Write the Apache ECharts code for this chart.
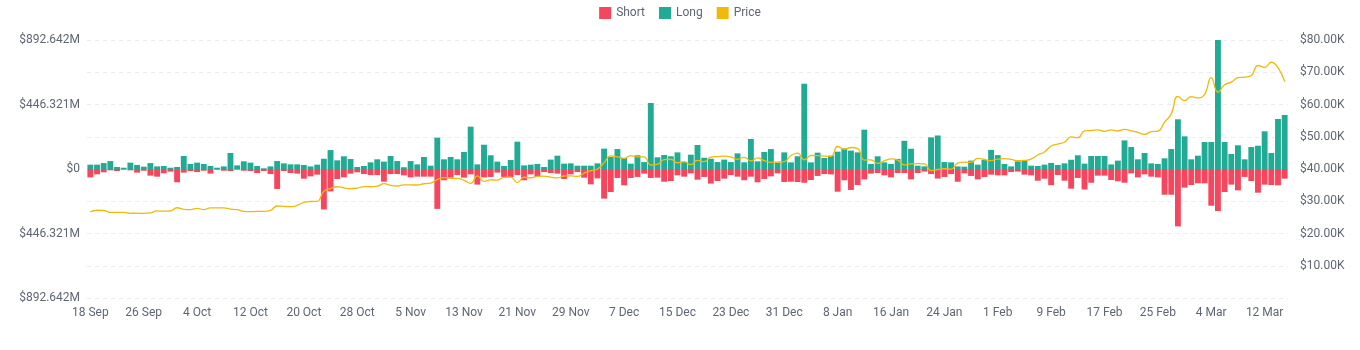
<!DOCTYPE html>
<html><head><meta charset="utf-8">
<script src="https://cdn.jsdelivr.net/npm/echarts@6/dist/echarts.min.js"></script>
<style>html,body{margin:0;padding:0;background:#fff}#c{width:1360px;height:350px}</style>
</head><body><div id="c"></div>
<script>
// Categories: daily from 18 Sep 2023 to 15 Mar 2024
var startDate = Date.UTC(2023, 8, 18);
var dayCount = 180;
var monthNames = ['Jan','Feb','Mar','Apr','May','Jun','Jul','Aug','Sep','Oct','Nov','Dec'];
var categories = [];
for (var i = 0; i < dayCount; i++) {
  var d = new Date(startDate + i * 86400000);
  categories.push(d.getUTCDate() + ' ' + monthNames[d.getUTCMonth()]);
}

// Long values (millions USD)
var longValues = [30,30,41,55,14,9,44,28,16,41,18,21,9,14,90,35,44,35,21,9,
18,111,25,53,44,21,5,18,55,39,32,32,28,18,30,71,131,60,88,69,
14,21,46,67,51,90,55,12,55,32,83,23,217,67,83,67,118,293,32,168,
95,51,21,62,189,25,30,35,14,65,92,37,39,23,23,23,39,141,83,138,
76,37,95,48,457,81,97,88,115,48,99,166,78,71,48,65,48,108,46,208,
53,118,138,44,115,46,88,590,46,113,76,92,120,143,127,115,272,35,88,46,
35,70,195,140,23,18,219,232,48,46,18,16,58,30,62,132,96,35,18,53,
58,23,21,30,42,28,39,64,95,37,90,90,90,32,58,198,152,67,111,39,
35,74,138,344,226,67,92,187,187,895,187,104,164,67,152,161,261,111,346,374];

// Short values (millions USD, drawn below zero)
var shortValues = [58,37,23,9,14,5,9,25,12,46,53,30,18,92,25,14,21,12,32,5,
12,14,5,12,14,28,14,35,138,14,28,32,67,51,39,280,155,69,58,32,
23,35,42,42,88,35,35,44,58,53,53,53,276,78,60,42,60,37,108,58,
55,25,55,55,42,78,37,55,21,28,32,69,37,21,60,106,65,205,159,62,
113,62,55,32,62,60,88,83,44,53,30,74,55,101,83,67,42,53,78,53,
92,69,51,30,90,88,90,95,76,48,35,37,157,78,145,111,72,32,28,44,
58,28,28,72,28,18,35,66,55,35,88,30,48,72,55,39,44,44,21,18,
39,44,81,67,112,42,81,136,62,142,95,46,46,76,85,95,30,58,37,53,
58,178,178,397,129,111,99,99,254,291,159,108,148,55,83,164,108,111,113,67];

// Price (USD)
var priceValues = [26700,27210,27130,26570,26580,26580,26260,26300,26220,26370,27020,26910,26970,27990,27500,27430,27790,27410,27930,27960,
27940,27590,27390,26870,26760,26860,26860,27160,28520,28420,28330,28720,29680,29920,29990,33090,33900,34500,34150,33900,
34090,34540,34500,34670,35440,34940,34730,35080,35050,35040,35430,35650,36700,37320,37130,37070,36490,35550,37880,36160,
36600,36580,37390,37480,35800,37440,37290,37720,37800,37480,37250,37830,37860,37710,38690,39470,39980,41980,44080,43770,
43290,44170,43730,43790,41240,41450,42890,43020,41940,42280,41370,42660,42270,43660,43860,43990,43740,43020,43610,42520,
43440,42580,42070,42140,42280,44180,44940,42850,44180,44160,43970,43930,46970,46120,46660,46340,42780,42840,41730,42510,
43150,42740,41260,41620,41660,41580,39510,39840,40080,39940,41820,42120,42030,43300,42950,42580,43080,43190,43000,42580,
42660,43090,44340,45290,47130,47750,48290,49960,49700,51810,51940,52160,51660,52120,51780,52280,51850,51320,50740,51570,
51730,54520,57080,62500,61200,62440,62030,63170,68330,63800,66110,66930,68300,68500,69000,72100,71480,73100,71400,67100];

var leftMax = 892.642, leftStep = 446.321;
var rightMax = 80000, rightStep = 10000;

var shortNeg = shortValues.map(function (v) { return -v; });
var textColor = '#5e6673';
var fontFam = 'Roboto, "Noto Sans", sans-serif';

var chart = echarts.init(document.getElementById('c'), null, {renderer: 'canvas'});
chart.setOption({
  animation: false,
  backgroundColor: '#fff',
  textStyle: {fontFamily: fontFam},
  legend: {
    top: 2, left: 'center', icon: 'rect', itemWidth: 12, itemHeight: 12, itemGap: 14,
    textStyle: {color: textColor, fontSize: 12, fontFamily: fontFam},
    data: ['Short', 'Long', 'Price']
  },
  grid: {left: 87, right: 72, top: 40, bottom: 52, containLabel: false},
  xAxis: {
    type: 'category', data: categories, boundaryGap: true,
    axisLine: {show: false}, axisTick: {show: false},
    axisLabel: {interval: 7, color: textColor, fontSize: 12, margin: 9, fontFamily: fontFam},
    splitLine: {show: false}
  },
  yAxis: [{
    type: 'value', min: -leftMax, max: leftMax, interval: leftStep,
    axisLine: {show: false}, axisTick: {show: false}, splitLine: {show: false},
    axisLabel: {color: textColor, fontSize: 12, margin: 7, fontFamily: fontFam,
      formatter: function (v) { return Math.abs(v) < 1e-6 ? '$0' : '$' + Math.abs(v).toFixed(3) + 'M'; }}
  }, {
    type: 'value', min: 0, max: rightMax, interval: rightStep, position: 'right',
    axisLine: {show: false}, axisTick: {show: false},
    splitLine: {show: true, lineStyle: {color: '#eaecef', type: [4, 4], width: 1}},
    axisLabel: {color: textColor, fontSize: 12, margin: 12, fontFamily: fontFam,
      formatter: function (v) { return v === 0 ? '' : '$' + (v / 1000).toFixed(2) + 'K'; }}
  }],
  series: [{
    name: 'Short', type: 'bar', yAxisIndex: 0, data: shortNeg,
    barCategoryGap: '12%', barGap: '-100%',
    itemStyle: {color: '#f6465d'}
  }, {
    name: 'Long', type: 'bar', yAxisIndex: 0, data: longValues,
    barCategoryGap: '12%', barGap: '-100%',
    itemStyle: {color: '#22ab94'}
  }, {
    name: 'Price', type: 'line', yAxisIndex: 1, data: priceValues,
    smooth: true, showSymbol: false, symbol: 'none',
    lineStyle: {color: '#f0b90b', width: 1.3}, itemStyle: {color: '#f0b90b'}, z: 5
  }]
});
</script></body></html>
